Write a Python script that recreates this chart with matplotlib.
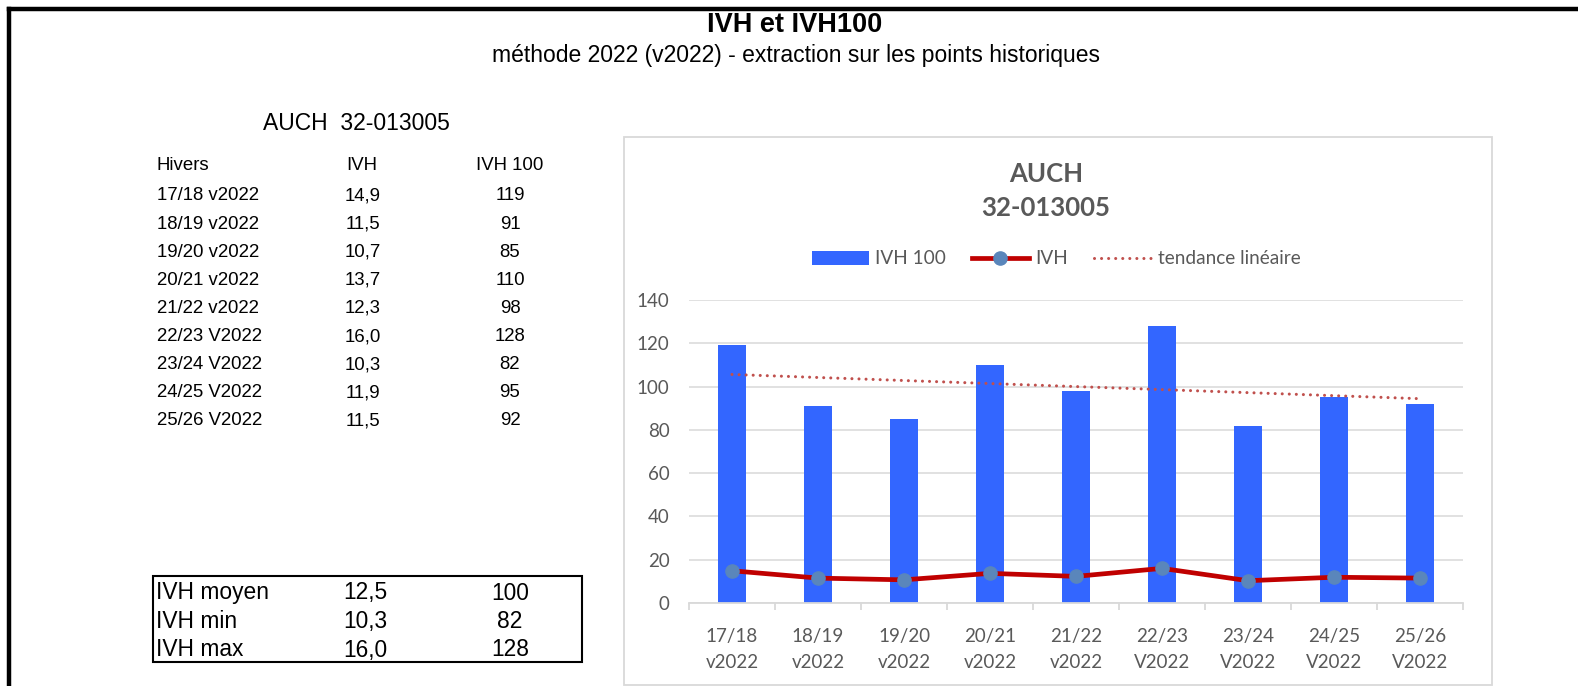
import numpy as np
import matplotlib
matplotlib.use("Agg")
import matplotlib.pyplot as plt
from matplotlib.patches import Rectangle
from matplotlib.lines import Line2D

# data
hivers = ["17/18 v2022", "18/19 v2022", "19/20 v2022", "20/21 v2022", "21/22 v2022",
          "22/23 V2022", "23/24 V2022", "24/25 V2022", "25/26 V2022"]
tick_labels = ["17/18\nv2022", "18/19\nv2022", "19/20\nv2022", "20/21\nv2022", "21/22\nv2022",
               "22/23\nV2022", "23/24\nV2022", "24/25\nV2022", "25/26\nV2022"]
ivh = [14.9, 11.5, 10.7, 13.7, 12.3, 16.0, 10.3, 11.9, 11.5]
ivh100 = [119, 91, 85, 110, 98, 128, 82, 95, 92]
station = "AUCH  32-013005"

W, H = 1578, 686
TABLE_FONT = "Liberation Sans"
CHART_FONT = "Lato"
GREY = "#595959"


def fx(px):
    return px / W


def fy(py):
    return 1 - py / H


def fr(s):
    return f"{s:.1f}".replace(".", ",")


fig = plt.figure(figsize=(W / 100, H / 100), dpi=100)

# black page border (top + left)
fig.add_artist(Line2D([fx(9), 1], [fy(9), fy(9)], color="black", lw=3.2))
fig.add_artist(Line2D([fx(9), fx(9)], [fy(9), 0], color="black", lw=3.2))

fig.text(fx(795), fy(31.5), "IVH et IVH100", ha="center", va="baseline",
         fontsize=19.5, fontweight="bold", family=TABLE_FONT)
fig.text(fx(796), fy(62), "méthode 2022 (v2022) - extraction sur les points historiques",
         ha="center", va="baseline", fontsize=16.5, family=TABLE_FONT)

# left table
fs_t = 13.4
fig.text(fx(263), fy(123), station, ha="left", va="center", fontsize=16.5, family=TABLE_FONT)
fig.text(fx(157), fy(166), "Hivers", ha="left", va="center", fontsize=fs_t, family=TABLE_FONT)
fig.text(fx(362), fy(166), "IVH", ha="center", va="center", fontsize=fs_t, family=TABLE_FONT)
fig.text(fx(510), fy(166), "IVH 100", ha="center", va="center", fontsize=fs_t, family=TABLE_FONT)
for i, (h, a, b) in enumerate(zip(hivers, ivh, ivh100)):
    y = 196 + i * 28.1
    fig.text(fx(157), fy(y), h, ha="left", va="center", fontsize=fs_t, family=TABLE_FONT)
    fig.text(fx(363), fy(y), fr(a), ha="center", va="center", fontsize=fs_t, family=TABLE_FONT)
    fig.text(fx(510), fy(y), str(b), ha="center", va="center", fontsize=fs_t, family=TABLE_FONT)

# summary box
stats = [("IVH moyen", np.mean(ivh), np.mean(ivh100)),
         ("IVH min", min(ivh), min(ivh100)),
         ("IVH max", max(ivh), max(ivh100))]
fig.add_artist(Rectangle((fx(153), fy(662)), fx(582) - fx(153), fy(576) - fy(662),
                         transform=fig.transFigure, fill=False, ec="black", lw=1.5))
for i, (lab, a, b) in enumerate(stats):
    y = 593 + i * 28.5
    fig.text(fx(156), fy(y), lab, ha="left", va="center", fontsize=16.4, family=TABLE_FONT)
    fig.text(fx(365), fy(y), fr(a), ha="center", va="center", fontsize=16.4, family=TABLE_FONT)
    fig.text(fx(510), fy(y), f"{b:.0f}", ha="center", va="center", fontsize=16.4, family=TABLE_FONT)

# chart area frame
fig.add_artist(Rectangle((fx(624), fy(685)), fx(1492) - fx(624), fy(137) - fy(685),
                         transform=fig.transFigure, fill=False, ec="#d9d9d9", lw=1.3))
fig.text(fx(1046), fy(174), "AUCH", ha="center", va="center", fontsize=18.5,
         fontweight="bold", color=GREY, family=CHART_FONT)
fig.text(fx(1046), fy(208), "32-013005", ha="center", va="center", fontsize=18.5,
         fontweight="bold", color=GREY, family=CHART_FONT)

ax = fig.add_axes([fx(689), fy(603), fx(1463) - fx(689), fy(300) - fy(603)])
x = np.arange(len(ivh100))
bars = ax.bar(x, ivh100, width=0.32, color="#3366ff", zorder=2, label="IVH 100")
line, = ax.plot(x, ivh, color="#c00000", lw=3.4, marker="o", markersize=9.5,
                markerfacecolor="#5a86bb", markeredgecolor="#5a86bb", zorder=4, label="IVH")
coef = np.polyfit(x, ivh100, 1)
trend, = ax.plot(x, np.polyval(coef, x), color="#c0504d", lw=2.2, ls=(0, (0.01, 2.3)),
                 dash_capstyle="round", zorder=3, label="tendance linéaire")

ax.set_xlim(-0.5, len(x) - 0.5)
ax.set_ylim(0, 140)
ax.set_yticks(np.arange(0, 141, 20))
ax.yaxis.grid(True, color="#d9d9d9", lw=1.1, zorder=0)
ax.set_axisbelow(True)
for s in ["top", "right", "left"]:
    ax.spines[s].set_visible(False)
ax.spines["bottom"].set_color("#d9d9d9")
ax.spines["bottom"].set_linewidth(1.3)
ax.set_xticks(x)
ax.set_xticklabels(tick_labels, linespacing=1.65)
ax.set_xticks(np.arange(-0.5, len(x)), minor=True)
ax.tick_params(axis="x", which="major", length=0, pad=18)
ax.tick_params(axis="x", which="minor", length=5, color="#d9d9d9", width=1.3)
ax.tick_params(axis="y", length=0, pad=14)
for lab in ax.get_xticklabels() + ax.get_yticklabels():
    lab.set_fontsize(13.5)
    lab.set_color(GREY)
    lab.set_family(CHART_FONT)

leg = ax.legend(handles=[bars, line, trend], loc="center", ncol=3,
                bbox_to_anchor=(fx(1056), fy(259)), bbox_transform=fig.transFigure,
                frameon=False, handlelength=3.0, handletextpad=0.35, columnspacing=1.35,
                prop={"family": CHART_FONT, "size": 13.7})
for t in leg.get_texts():
    t.set_color(GREY)

fig.savefig("out.png", dpi=100)
